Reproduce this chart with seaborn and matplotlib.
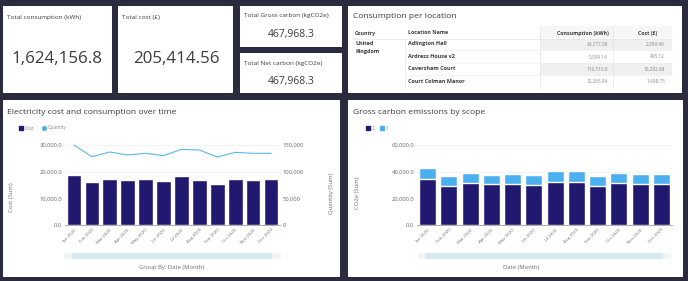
import numpy as np
import matplotlib
matplotlib.use("Agg")
import matplotlib.pyplot as plt
from matplotlib.patches import Rectangle
from matplotlib.lines import Line2D
import seaborn as sns

# chart data
months = ["Jan 2020", "Feb 2020", "Mar 2020", "Apr 2020", "May 2020", "Jun 2020",
          "Jul 2020", "Aug 2020", "Sep 2020", "Oct 2020", "Nov 2020", "Dec 2020"]
cost = [18900, 16100, 17250, 16750, 17250, 16600, 18250, 16750, 15500, 17250, 17000, 17250]
quantity = [150000, 128100, 136900, 131250, 134400, 130000, 141900, 140600, 127500, 136250, 134400, 134400]
scope2 = [34250, 29500, 31750, 30500, 31000, 30000, 32500, 32500, 29250, 31250, 31000, 31000]
scope1 = [8500, 7250, 7500, 7250, 7500, 7250, 8250, 8250, 7500, 7750, 7500, 7500]

# KPI cards
kpi_titles = ["Total consumption (kWh)", "Total cost (£)",
              "Total Gross carbon (kgCO2e)", "Total Net carbon (kgCO2e)"]
kpi_values = ["1,624,156.8", "205,414.56", "467,968.3", "467,968.3"]

# table
table_headers = ["Country", "Location Name", "Consumption (kWh)", "Cost (£)"]
locations = ["Adlington Hall", "Ardress House v2", "Caversham Court", "Court Colman Manor"]
consumption = ["24,277.08", "5,399.14", "119,516.8", "12,265.84"]
loc_cost = ["2,399.46", "495.12", "16,282.88", "1,698.75"]

NAVY = "#21186f"
LIGHT = "#4cb0ef"
BG = "#2a2b3d"
TXT = "#3c3c3c"
GREY = "#6b6b6b"

sns.set_theme(style="white")
plt.rcParams["font.family"] = ["Open Sans", "DejaVu Sans"]

W, H = 688, 281
fig = plt.figure(figsize=(W / 100, H / 100), dpi=100)
fig.patch.set_facecolor(BG)


def fx(x):
    return x / W


def fy(y):
    return 1 - y / H


def box(x0, y0, x1, y1):
    return [fx(x0), fy(y1), (x1 - x0) / W, (y1 - y0) / H]


def rect(x0, y0, x1, y1, color, z=-1):
    fig.add_artist(Rectangle((fx(x0), fy(y1)), (x1 - x0) / W, (y1 - y0) / H,
                             transform=fig.transFigure, facecolor=color,
                             edgecolor="none", zorder=z))


def hline(x0, x1, y, color="#e4e4e4", lw=0.5):
    fig.add_artist(Line2D([fx(x0), fx(x1)], [fy(y), fy(y)], transform=fig.transFigure,
                          color=color, lw=lw))


def vline(x, y0, y1, color="#e4e4e4", lw=0.5):
    fig.add_artist(Line2D([fx(x), fx(x)], [fy(y0), fy(y1)], transform=fig.transFigure,
                          color=color, lw=lw))


def text(x, y, s, size, color=TXT, ha="left", **kw):
    fig.text(fx(x), fy(y), s, fontsize=size, color=color, ha=ha, va="center", **kw)


# white cards
cards = [(3, 6, 112, 93), (118, 6, 233, 93), (240, 6, 342, 47), (240, 53, 342, 93),
         (348, 6, 682, 93), (3, 100, 340, 277), (348, 100, 683, 277)]
for c in cards:
    rect(*c, "white")

# KPIs
text(7, 17, kpi_titles[0], 4.6)
text(57, 59, kpi_values[0], 12.2, ha="center")
text(122, 17, kpi_titles[1], 4.6)
text(176, 59, kpi_values[1], 12.2, ha="center")
text(244, 16, kpi_titles[2], 4.6)
text(291, 35, kpi_values[2], 7.5, ha="center")
text(244, 63, kpi_titles[3], 4.6)
text(291, 82, kpi_values[3], 7.5, ha="center")

# table card
text(353, 17, "Consumption per location", 6.1)
rect(540, 26, 672, 38, "#f7f7f7")
rect(540, 39, 672, 50, "#f0f0f0")
rect(540, 63, 672, 75, "#f0f0f0")
text(355, 33, table_headers[0], 3.8, weight="bold")
text(408, 33, table_headers[1], 3.8, weight="bold")
text(609, 33, table_headers[2], 3.8, ha="right", weight="bold")
text(657, 33, table_headers[3], 3.8, ha="right", weight="bold")
hline(352, 672, 38.5)
vline(540, 26, 88)
vline(613, 26, 88)
vline(405, 39, 88)
text(355, 44, "United", 4.0, weight="bold")
text(355, 52, "Kingdom", 4.0, weight="bold")
row_y = [44, 57, 69, 81]
for i, y in enumerate(row_y):
    text(408, y, locations[i], 4.0, weight="bold")
    text(608, y, consumption[i], 3.4, color="#8a8a8a", ha="right")
    text(665, y, loc_cost[i], 3.4, color="#8a8a8a", ha="right")
    if i < 3:
        hline(405, 672, y + 6.3, color="#eeeeee")


def style_axes(ax):
    for s in ["top", "right", "left"]:
        ax.spines[s].set_visible(False)
    ax.spines["bottom"].set_color("#a0a0a0")
    ax.spines["bottom"].set_linewidth(0.6)
    ax.tick_params(axis="both", length=0, pad=2, labelcolor=GREY)
    ax.tick_params(axis="y", labelsize=4.2)
    ax.set_xlabel("")
    ax.set_ylabel("")
    ax.set_xlim(-0.5, 11.5)
    ax.grid(axis="y", color="#f0f0f0", lw=0.5)
    ax.set_axisbelow(True)
    ax.set_xticks(range(len(months)))
    ax.set_xticklabels(months, rotation=45, ha="right", rotation_mode="anchor",
                       fontsize=3.2, color=GREY)


# left chart: cost bars + quantity line
text(7, 112, "Electricity cost and consumption over time", 6.1)
fig.add_artist(Line2D([fx(21)], [fy(128)], marker="s", ms=2.6, color=NAVY,
                      transform=fig.transFigure))
text(25, 128, "Cost", 3.4, color="#8a8a8a")
fig.add_artist(Line2D([fx(44)], [fy(128)], marker="o", ms=2.6, color=LIGHT,
                      transform=fig.transFigure))
text(48, 128, "Quantity", 3.4, color="#8a8a8a")

ax1 = fig.add_axes(box(65, 145, 280, 225))
ax1.set_facecolor("white")
sns.barplot(x=months, y=cost, color=NAVY, width=0.82, saturation=1, ax=ax1)
ax1.set_ylim(0, 30000)
ax1.set_yticks([0, 10000, 20000, 30000])
ax1.set_yticklabels([f"{v:,.1f}" for v in [0, 10000, 20000, 30000]])
style_axes(ax1)

ax2 = ax1.twinx()
sns.lineplot(x=np.arange(len(months)), y=quantity, color="#5ab8ea", lw=0.8, ax=ax2)
for ln in ax2.lines:
    ln.set_clip_on(False)
ax2.set_ylim(0, 150000)
ax2.set_yticks([0, 50000, 100000, 150000])
ax2.set_yticklabels([f"{v:,.0f}" for v in [0, 50000, 100000, 150000]])
for s in ["top", "right", "left", "bottom"]:
    ax2.spines[s].set_visible(False)
ax2.tick_params(axis="y", length=0, pad=2, labelsize=4.2, labelcolor=GREY)
ax2.set_xlabel("")
ax2.set_ylabel("")

text(12, 197, "Cost (Sum)", 4.2, color=GREY, rotation=90, ha="center")
text(332, 193, "Quantity (Sum)", 4.2, color=GREY, rotation=90, ha="center")
rect(64, 253, 281, 259, "#f2f4f5", z=1)
rect(72, 253, 272, 259, "#d5ebf3", z=1)
text(172, 268, "Group By: Date (Month)", 4.2, color=GREY, ha="center")

# right chart: stacked scope bars
text(353, 112, "Gross carbon emissions by scope", 6.1)
fig.add_artist(Line2D([fx(368)], [fy(128)], marker="s", ms=2.6, color=NAVY,
                      transform=fig.transFigure))
text(372, 128, "2", 3.4, color="#8a8a8a")
fig.add_artist(Line2D([fx(382)], [fy(128)], marker="s", ms=2.6, color=LIGHT,
                      transform=fig.transFigure))
text(386, 128, "1", 3.4, color="#8a8a8a")

ax3 = fig.add_axes(box(417, 145, 672, 225))
ax3.set_facecolor("white")
total = [a + b for a, b in zip(scope2, scope1)]
sns.barplot(x=months, y=total, color=LIGHT, width=0.8, saturation=1, ax=ax3)
sns.barplot(x=months, y=scope2, color=NAVY, width=0.8, saturation=1, ax=ax3)
ax3.set_ylim(0, 60000)
ax3.set_yticks([0, 20000, 40000, 60000])
ax3.set_yticklabels([f"{v:,.1f}" for v in [0, 20000, 40000, 60000]])
style_axes(ax3)

text(357, 193, "CO2e (Sum)", 4.2, color=GREY, rotation=90, ha="center")
rect(418, 253, 671, 259, "#f2f4f5", z=1)
rect(425, 253, 663, 259, "#d5ebf3", z=1)
text(521, 268, "Date (Month)", 4.2, color=GREY, ha="center")

fig.savefig("out.png", dpi=100, facecolor=fig.get_facecolor())
